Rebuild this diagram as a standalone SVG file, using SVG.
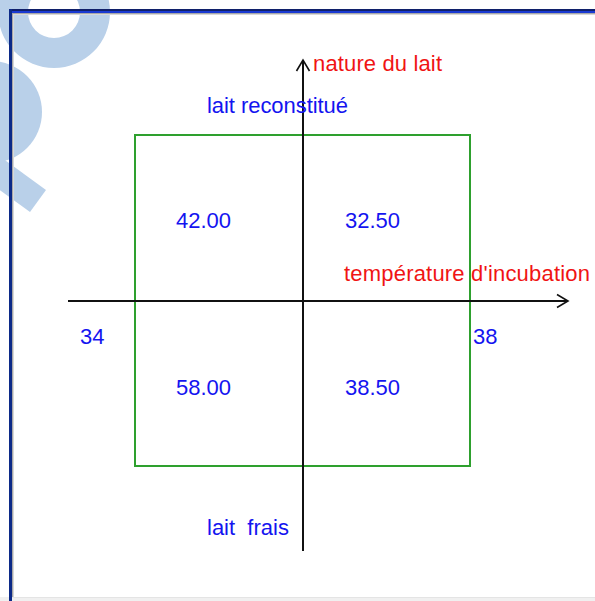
<svg xmlns="http://www.w3.org/2000/svg" width="595" height="601" viewBox="0 0 595 601">
<style>
text{font-family:"Liberation Sans",Arial,sans-serif;font-size:22px}
.b{fill:#1414f0}
.r{fill:#f01414}
.wm{fill:#b9d0e9}
.ax{stroke:#111;stroke-width:2;fill:none}
</style>
<defs>
<marker id="chev" markerUnits="userSpaceOnUse" viewBox="-13 -8 15 16" refX="0" refY="0" markerWidth="15" markerHeight="16" orient="auto" overflow="visible">
<path d="M-11,-6.5 L0,0 L-11,6.5" fill="none" stroke="#111" stroke-width="1.6"/>
</marker>
</defs>
<rect width="595" height="601" fill="#fff"/>
<g id="watermark">
<path class="wm" fill-rule="evenodd" d="M-2,12 a56,56 0 1,0 112,0 a56,56 0 1,0 -112,0 Z M28,12 a26,26 0 1,0 52,0 a26,26 0 1,0 -52,0 Z"/>
<circle class="wm" cx="-9" cy="112" r="51"/>
<polygon class="wm" points="46,190 30,212 -18,177 -2,155"/>
</g>
<g id="frame">
<rect x="0" y="597" width="595" height="4" fill="#f0f0f0"/>
<line x1="10" y1="597.5" x2="595" y2="597.5" stroke="#e4e4e4" stroke-width="1"/>
<line x1="13" y1="13.5" x2="595" y2="13.5" stroke="#a8a8a8" stroke-width="1"/>
<line x1="13" y1="14.5" x2="595" y2="14.5" stroke="#d8d8d8" stroke-width="1"/>
<line x1="12.5" y1="13" x2="12.5" y2="597" stroke="#a8a8a8" stroke-width="1"/>
<line x1="13.5" y1="14" x2="13.5" y2="597" stroke="#d8d8d8" stroke-width="1"/>
<line x1="9" y1="10" x2="595" y2="10" stroke="#10206a" stroke-width="2"/>
<line x1="9" y1="12" x2="595" y2="12" stroke="#1a3ad2" stroke-width="2"/>
<line x1="10.5" y1="9" x2="10.5" y2="601" stroke="#0c2a88" stroke-width="3"/>
</g>
<g id="quadrants">
<rect x="135" y="135" width="335" height="331" fill="none" stroke="#2ea02e" stroke-width="2"/>
</g>
<g id="connectors">
<line id="axis-y" class="ax" x1="303" y1="551" x2="303" y2="60" marker-end="url(#chev)"/>
<line id="axis-x" class="ax" x1="68" y1="301" x2="568" y2="301" marker-end="url(#chev)"/>
</g>
<g id="labels">
<text id="label-y" class="r" x="313" y="71" textLength="129">nature du lait</text>
<text id="label-x" class="r" x="344" y="281" textLength="246">température d'incubation</text>
<text id="top" class="b" x="207" y="113" textLength="141">lait reconstitué</text>
<text id="bottom" class="b" x="207" y="535" xml:space="preserve">lait  frais</text>
<text id="left" class="b" x="80" y="344">34</text>
<text id="right" class="b" x="473" y="344">38</text>
</g>
<g id="cell-tl"><text class="b" x="176" y="228">42.00</text></g>
<g id="cell-tr"><text class="b" x="345" y="228">32.50</text></g>
<g id="cell-bl"><text class="b" x="176" y="395">58.00</text></g>
<g id="cell-br"><text class="b" x="345" y="395">38.50</text></g>
</svg>
